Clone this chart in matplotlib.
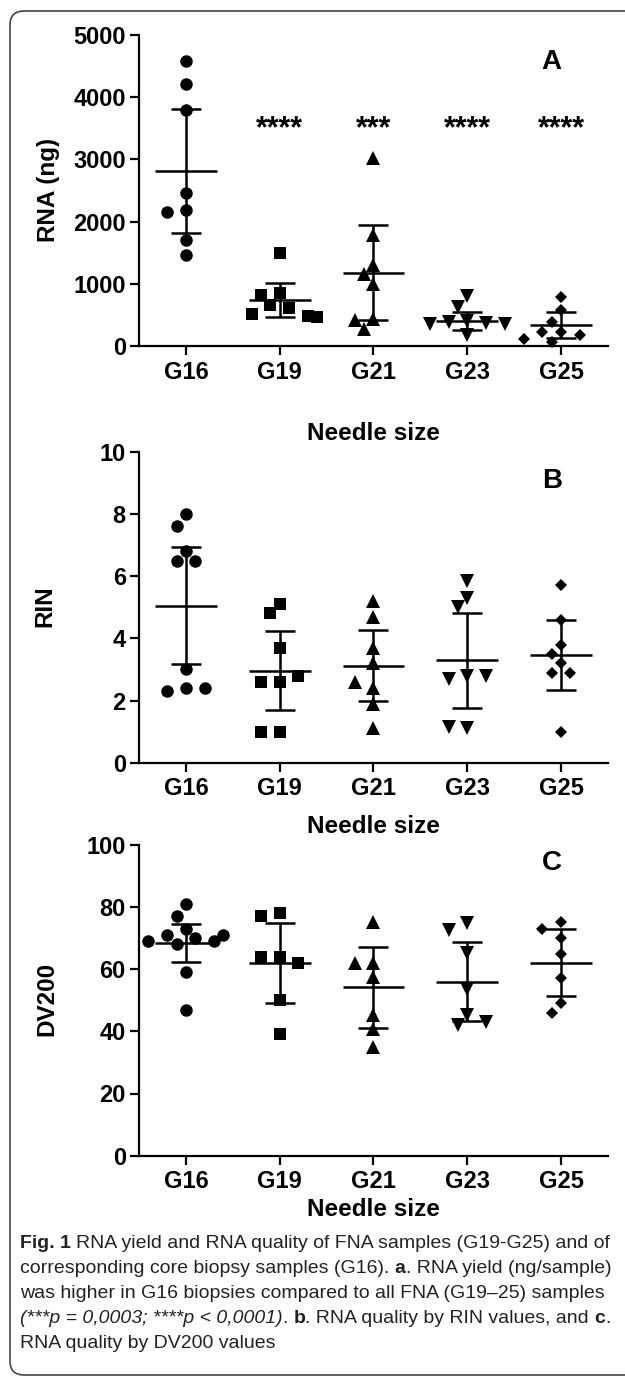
import numpy as np
import matplotlib
matplotlib.use("Agg")
import matplotlib.pyplot as plt
from matplotlib.patches import FancyBboxPatch

plt.rcParams['font.family'] = ['Liberation Sans', 'DejaVu Sans']

# --- Data ---
groups = ['G16', 'G19', 'G21', 'G23', 'G25']
markers = ['o', 's', '^', 'v', 'D']
marker_sizes = [9, 8.6, 9.5, 9.5, 6.6]

# A: RNA yield (ng)
rna_g16 = [4580, 4220, 3800, 2455, 2186, 2160, 1704, 1463]
rna_g19 = [1500, 850, 820, 660, 610, 520, 480, 470]
rna_g21 = [3030, 1790, 1300, 1150, 1000, 430, 420, 270]
rna_g23 = [800, 620, 400, 380, 370, 360, 350, 180]
rna_g25 = [790, 580, 390, 230, 230, 180, 120, 70]
rna_mean = [2818, 740, 1179, 407, 338]
rna_sd = [1000, 268, 760, 145, 214]
rna_stars = ['', '****', '***', '****', '****']

# B: RIN
rin_g16 = [8.0, 7.6, 6.8, 6.5, 6.5, 3.0, 2.4, 2.3, 2.4]
rin_g19 = [5.1, 4.8, 3.7, 2.6, 2.6, 2.8, 1.0, 1.0]
rin_g21 = [5.2, 4.7, 3.7, 3.2, 2.4, 2.6, 1.9, 1.1]
rin_g23 = [5.85, 5.3, 5.0, 2.8, 2.7, 2.8, 1.1, 1.15]
rin_g25 = [5.7, 4.6, 3.8, 3.5, 3.2, 2.9, 2.9, 1.0]
rin_mean = [5.05, 2.96, 3.12, 3.29, 3.47]
rin_sd = [1.88, 1.27, 1.15, 1.53, 1.13]

# C: DV200
dv_g16 = [81, 77, 73, 71, 70, 69, 68, 69, 71, 59, 47]
dv_g19 = [78, 77, 64, 64, 62, 50, 39]
dv_g21 = [75, 62, 62, 57.6, 45.3, 40.7, 35]
dv_g23 = [74.8, 72.6, 65.1, 53.6, 45.3, 42.1, 43.1]
dv_g25 = [75, 73, 70, 65, 57, 49, 46]
dv_mean = [68.4, 61.9, 54.1, 56.0, 62.1]
dv_sd = [6.1, 12.9, 13.1, 12.6, 10.7]

caption_lines = [
    [("Fig. 1", 'bold'), (" RNA yield and RNA quality of FNA samples (G19-G25) and of", 'normal')],
    [("corresponding core biopsy samples (G16). ", 'normal'), ("a", 'bold'),
     (". RNA yield (ng/sample)", 'normal')],
    [("was higher in G16 biopsies compared to all FNA (G19\u201325) samples", 'normal')],
    [("(***p = 0,0003; ****p < 0,0001)", 'italic'), (". ", 'normal'), ("b", 'bold'),
     (". RNA quality by RIN values, and ", 'normal'), ("c", 'bold'), (".", 'normal')],
    [("RNA quality by DV200 values", 'normal')],
]

W, H = 625, 1377
fig = plt.figure(figsize=(W / 100, H / 100), dpi=100)

# rounded frame around the figure
frame = FancyBboxPatch((10, 2), 700, H - 13, boxstyle="round,pad=0,rounding_size=14",
                       transform=None, facecolor='none', edgecolor='#444444', linewidth=1.2)
fig.patches.append(frame)


def swarm(values, ymax, d_px=13, step=0.1, axis_px=311, cat_px=93.5):
    # simple column scatter: shift points sideways until they stop overlapping
    placed, offs = [], []
    for v in values:
        y = v / ymax * axis_px
        for k in [0, -1, 1, -2, 2, -3, 3, -4, 4]:
            x = k * step * cat_px
            if all((x - px) ** 2 + (y - py) ** 2 >= d_px ** 2 for px, py in placed):
                break
        placed.append((x, y))
        offs.append(k * step)
    return offs


def scatter_panel(ax, data, means, sds, ymax, yticks, ylabel, letter, letter_y,
                  ylab_xy, xlab_y):
    for i, vals in enumerate(data):
        offs = swarm(vals, ymax)
        ax.plot(np.array(offs) + i, vals, linestyle='none', marker=markers[i],
                markersize=marker_sizes[i], color='black', markeredgewidth=0, clip_on=False)
    x = np.arange(len(groups))
    ax.errorbar(x, means, yerr=sds, fmt='none', ecolor='black', elinewidth=1.8,
                capsize=11, capthick=1.8)
    ax.hlines(means, x - 0.33, x + 0.33, color='black', linewidth=1.8)

    ax.set_xlim(-0.5, 4.5)
    ax.set_ylim(0, ymax)
    ax.set_xticks(x)
    ax.set_xticklabels(groups)
    ax.set_yticks(yticks)
    for s in ['top', 'right']:
        ax.spines[s].set_visible(False)
    for s in ['left', 'bottom']:
        ax.spines[s].set_linewidth(1.6)
    ax.tick_params(axis='both', width=1.6, length=6.5, labelsize=17)
    ax.tick_params(axis='x', pad=4)
    ax.tick_params(axis='y', pad=3)
    for lab in ax.get_xticklabels() + ax.get_yticklabels():
        lab.set_fontweight('bold')
    ax.text(3.9, letter_y, letter, fontsize=20, fontweight='bold', ha='center', va='center')
    ax.text(0.5, xlab_y, 'Needle size', transform=ax.transAxes, fontsize=17.5,
            fontweight='bold', ha='center', va='baseline')
    fig.text(ylab_xy[0] / W, 1 - ylab_xy[1] / H, ylabel, rotation=90, fontsize=17.5,
             fontweight='bold', ha='center', va='center')


left, width, height = 139 / W, 469 / W, 311 / H

axA = fig.add_axes([left, 1 - 346 / H, width, height])
scatter_panel(axA, [rna_g16, rna_g19, rna_g21, rna_g23, rna_g25], rna_mean, rna_sd,
              5000, [0, 1000, 2000, 3000, 4000, 5000], 'RNA (ng)', 'A', 4560,
              (49, 190), -0.302)
for i, s in enumerate(rna_stars):
    if s:
        axA.text(i, 3350, s, fontsize=22, fontweight='bold', ha='center', va='baseline')

axB = fig.add_axes([left, 1 - 762.7 / H, width, height])
scatter_panel(axB, [rin_g16, rin_g19, rin_g21, rin_g23, rin_g25], rin_mean, rin_sd,
              10, [0, 2, 4, 6, 8, 10], 'RIN', 'B', 9.05, (45, 606), -0.2255)

axC = fig.add_axes([left, 1 - 1155.7 / H, width, height])
scatter_panel(axC, [dv_g16, dv_g19, dv_g21, dv_g23, dv_g25], dv_mean, dv_sd,
              100, [0, 20, 40, 60, 80, 100], 'DV200', 'C', 94.1, (47, 999), -0.194)

# --- caption with mixed bold / italic runs ---
renderer = fig.canvas.get_renderer()
cap_fs = 14
style_kw = {'bold': dict(fontweight='bold'), 'normal': {}, 'italic': dict(fontstyle='italic')}


def text_w(s, kw):
    t = fig.text(0, 0, s, fontsize=cap_fs, **kw)
    w = t.get_window_extent(renderer).width
    t.remove()
    return w


baselines = [1248, 1273, 1298, 1323, 1348]
for line, yb in zip(caption_lines, baselines):
    xpos = 20
    for txt, st in line:
        kw = style_kw[st]
        sp = text_w('a a', kw) - text_w('aa', kw)
        core = txt.strip(' ')
        lead = len(txt) - len(txt.lstrip(' '))
        trail = len(txt) - len(txt.rstrip(' '))
        xpos += lead * sp
        fig.text(xpos / W, 1 - yb / H, core, fontsize=cap_fs, color='#222222',
                 ha='left', va='baseline', **kw)
        xpos += text_w(core, kw) + trail * sp

fig.savefig('out.png', dpi=100)
